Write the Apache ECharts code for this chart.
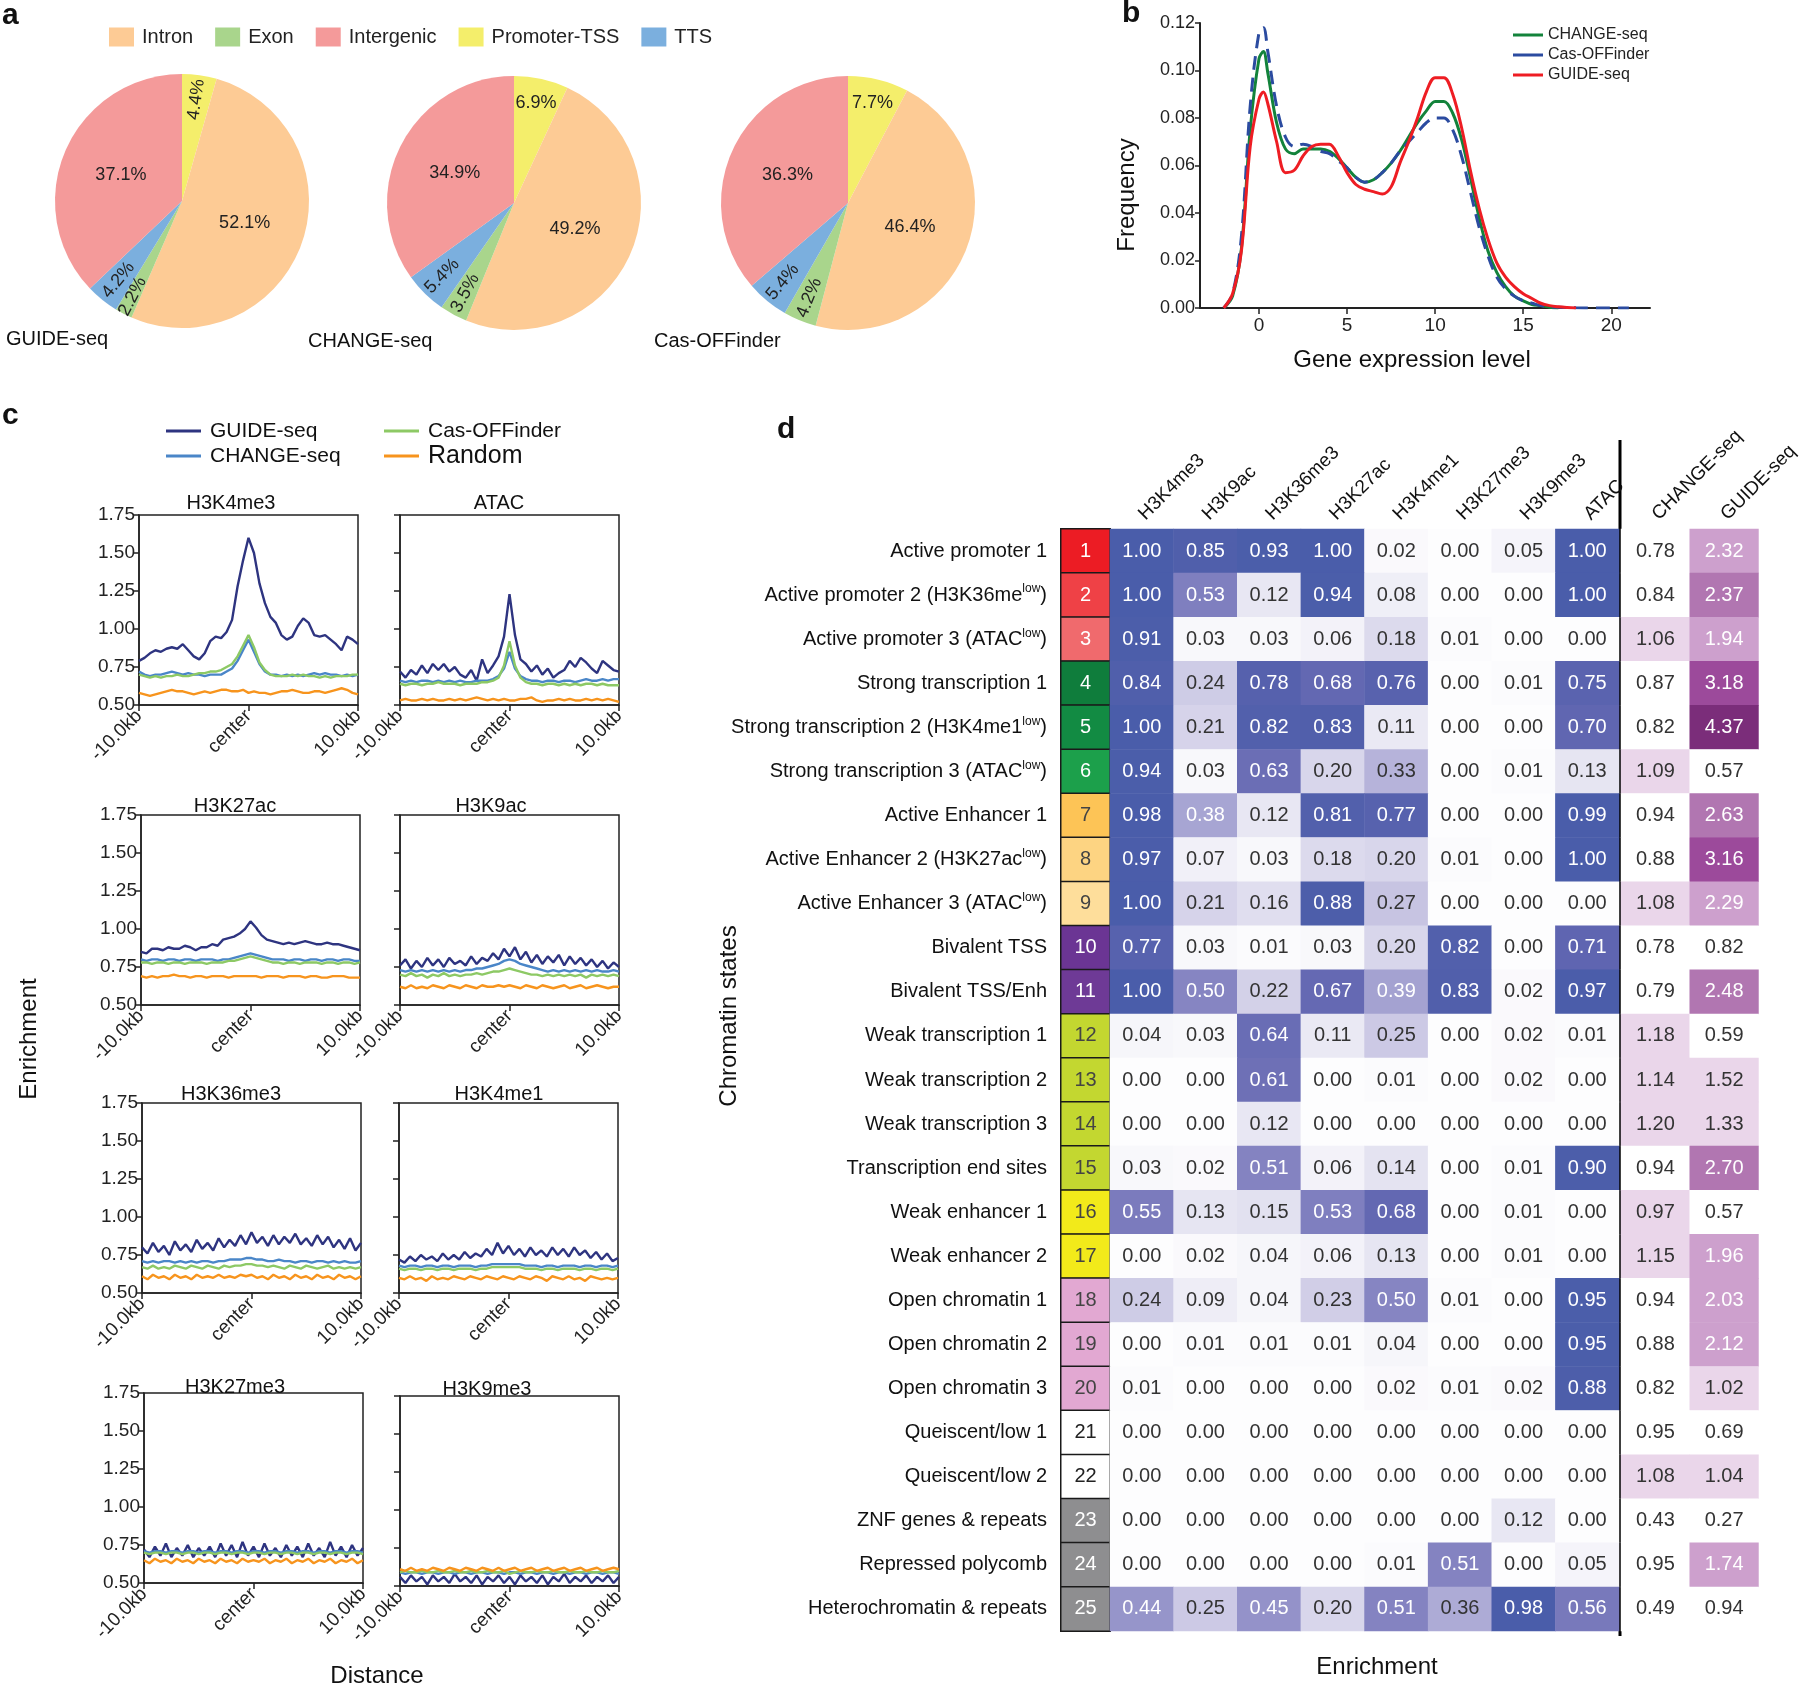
<!DOCTYPE html>
<html>
<head>
<meta charset="utf-8">
<script src="https://cdn.jsdelivr.net/npm/echarts@6/dist/echarts.min.js"></script>
<style>
html, body { margin: 0; padding: 0; background: #fff; }
#main { width: 1800px; height: 1687px; }
</style>
</head>
<body>
<div id="main"></div>
<script>
// ---------- a: genomic annotation of off-target sites (%)
var annoNames = ['Promoter-TSS', 'Intron', 'Exon', 'TTS', 'Intergenic'];
var annoColors = ['#F4EE6B', '#FDCB95', '#A9D58C', '#7BAFDE', '#F49A9A'];
var pieGuide = [4.4, 52.1, 2.2, 4.2, 37.1];
var pieChange = [6.9, 49.2, 3.5, 5.4, 34.9];
var pieCas = [7.7, 46.4, 4.2, 5.4, 36.3];

// ---------- b: density of gene expression level
var exprX = [-2,-1.5,-1,-0.5,0,0.25,0.5,1,1.5,2, 2.5,3,3.5,4,4.5,5,5.5,6,6.5,7, 7.5,8,8.5,9,9.5,10,10.5,11,11.5,12, 12.5,13,13.5,14,14.5,15,15.5,16,16.5,17, 17.5,18,19,20,21];
var densChange = [0,0.005,0.025,0.075,0.105,0.108,0.099,0.078,0.067,0.065, 0.067,0.067,0.067,0.066,0.063,0.059,0.055,0.053,0.054,0.057, 0.061,0.066,0.072,0.078,0.083,0.087,0.087,0.082,0.071,0.055, 0.038,0.024,0.015,0.009,0.005,0.003,0.0015,0.001,0.0003,0, null,null,null,null,null];
var densCas = [0,0.006,0.030,0.085,0.116,0.118,0.108,0.085,0.072,0.068, 0.069,0.068,0.066,0.065,0.062,0.059,0.055,0.053,0.054,0.057, 0.061,0.066,0.070,0.074,0.078,0.080,0.080,0.075,0.064,0.049, 0.034,0.022,0.013,0.008,0.005,0.003,0.002,0.001,0.0005,0.0003, 0.0002,0.0001,0,0,0];
var densGuide = [0,0.006,0.024,0.068,0.088,0.091,0.086,0.070,0.057,0.058, 0.064,0.068,0.069,0.069,0.064,0.057,0.052,0.050,0.049,0.048, 0.051,0.061,0.070,0.080,0.091,0.097,0.097,0.090,0.076,0.058, 0.042,0.029,0.019,0.013,0.009,0.006,0.004,0.002,0.001,0.0005, 0.0002,0,null,null,null];
var exprTicks = [0, 5, 10, 15, 20];

// ---------- c: enrichment profiles, -10kb .. +10kb, every 0.5kb
var h3k4me3Guide = [0.79,0.81,0.84,0.86,0.85,0.87,0.88,0.87,0.90,0.86, 0.82,0.80,0.84,0.92,0.95,0.94,0.98,1.06,1.28,1.45, 1.60,1.50,1.30,1.17,1.08,1.04,0.96,0.93,0.95,1.02, 1.07,1.04,0.96,0.95,0.96,0.93,0.90,0.86,0.95,0.93, 0.90];
var h3k4me3Change = [0.72,0.70,0.69,0.70,0.70,0.71,0.72,0.71,0.70,0.71, 0.70,0.70,0.69,0.70,0.70,0.70,0.72,0.74,0.79,0.86, 0.93,0.85,0.77,0.72,0.70,0.70,0.69,0.70,0.69,0.70, 0.69,0.70,0.71,0.70,0.71,0.70,0.70,0.69,0.70,0.69, 0.70];
var h3k4me3Cas = [0.70,0.69,0.68,0.69,0.68,0.69,0.69,0.70,0.69,0.69, 0.70,0.71,0.71,0.72,0.72,0.73,0.75,0.77,0.82,0.89, 0.96,0.88,0.78,0.73,0.70,0.69,0.69,0.69,0.70,0.69, 0.70,0.69,0.69,0.68,0.69,0.68,0.69,0.69,0.69,0.70, 0.70];
var h3k4me3Random = [0.58,0.57,0.56,0.57,0.58,0.59,0.60,0.59,0.59,0.58, 0.57,0.58,0.59,0.58,0.59,0.60,0.60,0.59,0.59,0.60, 0.58,0.59,0.58,0.58,0.57,0.58,0.59,0.59,0.60,0.59, 0.58,0.58,0.59,0.59,0.58,0.59,0.60,0.61,0.60,0.58, 0.57];

var atacGuide = [0.72,0.68,0.73,0.70,0.76,0.71,0.77,0.73,0.77,0.72, 0.75,0.70,0.68,0.73,0.66,0.80,0.71,0.76,0.82,0.95, 1.23,0.96,0.80,0.77,0.72,0.76,0.70,0.74,0.68,0.71, 0.73,0.79,0.75,0.81,0.78,0.74,0.71,0.79,0.76,0.73, 0.72];
var atacChange = [0.66,0.65,0.66,0.65,0.66,0.66,0.65,0.66,0.65,0.66, 0.65,0.66,0.65,0.65,0.66,0.66,0.66,0.67,0.69,0.74, 0.85,0.74,0.69,0.67,0.66,0.66,0.65,0.66,0.66,0.65, 0.66,0.66,0.65,0.66,0.67,0.66,0.66,0.67,0.66,0.67, 0.67];
var atacCas = [0.64,0.63,0.64,0.64,0.63,0.64,0.64,0.65,0.64,0.64, 0.64,0.63,0.64,0.64,0.64,0.65,0.65,0.66,0.68,0.76, 0.92,0.76,0.68,0.65,0.64,0.64,0.63,0.64,0.64,0.63, 0.64,0.63,0.64,0.63,0.64,0.64,0.63,0.64,0.63,0.63, 0.63];
var atacRandom = [0.53,0.54,0.53,0.53,0.54,0.53,0.54,0.53,0.53,0.54, 0.53,0.54,0.53,0.54,0.55,0.54,0.53,0.54,0.53,0.54, 0.53,0.53,0.54,0.54,0.55,0.53,0.52,0.53,0.53,0.54, 0.53,0.54,0.53,0.53,0.54,0.53,0.54,0.53,0.54,0.53, 0.52];

var h3k27acGuide = [0.85,0.84,0.87,0.87,0.86,0.88,0.87,0.87,0.89,0.88, 0.86,0.88,0.88,0.90,0.89,0.93,0.94,0.95,0.97,1.00, 1.05,1.01,0.96,0.93,0.92,0.91,0.90,0.91,0.90,0.91, 0.92,0.91,0.90,0.90,0.91,0.90,0.90,0.89,0.88,0.87, 0.86];
var h3k27acChange = [0.80,0.79,0.80,0.80,0.79,0.80,0.80,0.79,0.80,0.80, 0.79,0.80,0.80,0.80,0.79,0.80,0.80,0.81,0.82,0.83, 0.84,0.83,0.82,0.81,0.80,0.80,0.80,0.79,0.80,0.80, 0.79,0.80,0.80,0.79,0.80,0.80,0.79,0.80,0.80,0.79, 0.79];
var h3k27acCas = [0.78,0.78,0.77,0.78,0.78,0.77,0.78,0.78,0.77,0.78, 0.78,0.78,0.77,0.78,0.78,0.78,0.79,0.79,0.80,0.81, 0.82,0.81,0.80,0.79,0.78,0.78,0.77,0.78,0.78,0.77, 0.78,0.78,0.78,0.77,0.78,0.78,0.77,0.78,0.78,0.77, 0.78];
var h3k27acRandom = [0.69,0.68,0.69,0.68,0.69,0.69,0.70,0.69,0.69,0.68, 0.69,0.69,0.68,0.69,0.69,0.69,0.68,0.69,0.69,0.69, 0.69,0.69,0.68,0.69,0.69,0.69,0.68,0.69,0.69,0.69, 0.68,0.69,0.69,0.68,0.68,0.69,0.69,0.69,0.68,0.68, 0.68];

var h3k9acGuide = [0.76,0.80,0.74,0.79,0.75,0.81,0.76,0.80,0.75,0.81, 0.77,0.79,0.76,0.82,0.77,0.81,0.79,0.84,0.80,0.87, 0.82,0.88,0.80,0.85,0.78,0.83,0.77,0.82,0.78,0.83, 0.76,0.82,0.77,0.81,0.76,0.80,0.75,0.79,0.74,0.78, 0.75];
var h3k9acChange = [0.73,0.72,0.73,0.72,0.73,0.72,0.73,0.72,0.73,0.72, 0.73,0.72,0.73,0.73,0.74,0.74,0.75,0.76,0.77,0.79, 0.80,0.79,0.77,0.76,0.75,0.74,0.73,0.72,0.73,0.72, 0.73,0.72,0.73,0.72,0.73,0.72,0.73,0.72,0.72,0.73, 0.72];
var h3k9acCas = [0.70,0.69,0.71,0.69,0.70,0.68,0.70,0.69,0.71,0.69, 0.70,0.69,0.70,0.70,0.71,0.70,0.71,0.72,0.72,0.73, 0.74,0.73,0.72,0.71,0.70,0.70,0.69,0.70,0.69,0.70, 0.69,0.70,0.69,0.70,0.68,0.70,0.69,0.70,0.69,0.70, 0.69];
var h3k9acRandom = [0.62,0.61,0.63,0.61,0.62,0.61,0.63,0.62,0.61,0.63, 0.62,0.61,0.63,0.62,0.61,0.63,0.62,0.62,0.63,0.62, 0.63,0.62,0.61,0.63,0.62,0.61,0.63,0.62,0.61,0.62, 0.63,0.61,0.62,0.63,0.61,0.62,0.63,0.62,0.61,0.62, 0.62];

var h3k36me3Guide = [0.80,0.76,0.83,0.77,0.81,0.75,0.84,0.78,0.82,0.77, 0.85,0.79,0.83,0.78,0.86,0.80,0.85,0.81,0.88,0.82, 0.90,0.83,0.87,0.81,0.88,0.82,0.87,0.83,0.89,0.82, 0.86,0.81,0.88,0.82,0.87,0.80,0.85,0.79,0.86,0.78, 0.83];
var h3k36me3Change = [0.71,0.70,0.71,0.70,0.71,0.71,0.70,0.71,0.70,0.71, 0.70,0.71,0.71,0.70,0.71,0.71,0.72,0.72,0.72,0.73, 0.73,0.72,0.72,0.71,0.71,0.72,0.71,0.71,0.70,0.71, 0.71,0.70,0.71,0.71,0.70,0.71,0.70,0.71,0.70,0.70, 0.71];
var h3k36me3Cas = [0.67,0.66,0.68,0.66,0.67,0.66,0.68,0.67,0.66,0.68, 0.67,0.66,0.68,0.67,0.66,0.68,0.67,0.68,0.68,0.69, 0.69,0.68,0.68,0.67,0.68,0.67,0.66,0.68,0.67,0.66, 0.68,0.67,0.66,0.67,0.68,0.66,0.67,0.66,0.67,0.66, 0.67];
var h3k36me3Random = [0.61,0.59,0.62,0.60,0.61,0.59,0.62,0.60,0.61,0.59, 0.62,0.60,0.61,0.60,0.62,0.60,0.61,0.60,0.62,0.61, 0.62,0.60,0.61,0.59,0.62,0.60,0.61,0.59,0.62,0.60, 0.61,0.59,0.62,0.60,0.61,0.59,0.62,0.60,0.61,0.59, 0.61];

var h3k4me1Guide = [0.72,0.70,0.74,0.71,0.75,0.72,0.74,0.71,0.76,0.72, 0.75,0.72,0.77,0.73,0.76,0.74,0.79,0.75,0.83,0.76, 0.81,0.75,0.79,0.74,0.80,0.75,0.78,0.74,0.80,0.75, 0.79,0.74,0.80,0.75,0.78,0.73,0.77,0.72,0.76,0.71, 0.73];
var h3k4me1Change = [0.68,0.67,0.68,0.68,0.67,0.68,0.68,0.67,0.68,0.68, 0.67,0.68,0.68,0.68,0.67,0.68,0.68,0.69,0.69,0.69, 0.69,0.69,0.69,0.68,0.68,0.68,0.67,0.68,0.68,0.67, 0.68,0.68,0.68,0.67,0.68,0.68,0.67,0.68,0.68,0.67, 0.68];
var h3k4me1Cas = [0.66,0.65,0.66,0.66,0.65,0.66,0.66,0.65,0.66,0.66, 0.65,0.66,0.66,0.66,0.65,0.66,0.66,0.67,0.67,0.67, 0.67,0.67,0.67,0.66,0.66,0.66,0.65,0.66,0.66,0.65, 0.66,0.66,0.66,0.65,0.66,0.66,0.65,0.66,0.66,0.65, 0.66];
var h3k4me1Random = [0.60,0.59,0.61,0.59,0.60,0.58,0.61,0.59,0.60,0.59, 0.61,0.60,0.59,0.61,0.60,0.59,0.61,0.60,0.59,0.61, 0.60,0.59,0.61,0.60,0.59,0.61,0.60,0.58,0.61,0.60, 0.59,0.61,0.59,0.60,0.58,0.61,0.60,0.59,0.60,0.59, 0.60];

var h3k27me3Guide = [0.72,0.67,0.74,0.68,0.76,0.67,0.73,0.68,0.75,0.67, 0.73,0.68,0.74,0.67,0.76,0.68,0.75,0.67,0.77,0.68, 0.74,0.67,0.76,0.68,0.73,0.67,0.75,0.68,0.74,0.67, 0.76,0.68,0.73,0.67,0.77,0.68,0.74,0.67,0.75,0.68, 0.73];
var h3k27me3Change = [0.71,0.70,0.71,0.71,0.70,0.71,0.71,0.70,0.71,0.71, 0.70,0.71,0.71,0.70,0.71,0.71,0.70,0.71,0.71,0.70, 0.71,0.71,0.70,0.71,0.71,0.70,0.71,0.71,0.70,0.71, 0.71,0.70,0.71,0.71,0.70,0.71,0.71,0.70,0.71,0.71, 0.70];
var h3k27me3Cas = [0.70,0.69,0.70,0.70,0.69,0.70,0.70,0.69,0.70,0.70, 0.69,0.70,0.70,0.69,0.70,0.70,0.69,0.70,0.70,0.69, 0.70,0.70,0.69,0.70,0.70,0.69,0.70,0.70,0.69,0.70, 0.70,0.69,0.70,0.70,0.69,0.70,0.70,0.69,0.70,0.70, 0.69];
var h3k27me3Random = [0.65,0.63,0.66,0.64,0.65,0.63,0.66,0.64,0.65,0.63, 0.66,0.64,0.65,0.63,0.66,0.64,0.65,0.63,0.66,0.64, 0.65,0.64,0.66,0.63,0.65,0.64,0.66,0.63,0.65,0.64, 0.66,0.63,0.65,0.64,0.66,0.63,0.65,0.64,0.66,0.63, 0.65];

var h3k9me3Guide = [0.56,0.52,0.57,0.53,0.56,0.51,0.57,0.53,0.56,0.52, 0.58,0.53,0.56,0.52,0.57,0.51,0.56,0.53,0.57,0.52, 0.56,0.51,0.57,0.53,0.56,0.52,0.57,0.51,0.56,0.53, 0.58,0.52,0.56,0.53,0.57,0.52,0.56,0.53,0.57,0.52, 0.56];
var h3k9me3Change = [0.59,0.58,0.59,0.59,0.58,0.59,0.59,0.58,0.59,0.59, 0.58,0.59,0.59,0.58,0.59,0.59,0.58,0.59,0.59,0.58, 0.59,0.59,0.58,0.59,0.59,0.58,0.59,0.59,0.58,0.59, 0.59,0.58,0.59,0.59,0.58,0.59,0.59,0.58,0.59,0.59, 0.58];
var h3k9me3Cas = [0.59,0.60,0.59,0.59,0.60,0.59,0.59,0.60,0.59,0.59, 0.60,0.59,0.59,0.60,0.59,0.59,0.60,0.59,0.59,0.60, 0.58,0.59,0.60,0.59,0.59,0.60,0.59,0.59,0.60,0.59, 0.59,0.60,0.59,0.59,0.60,0.59,0.59,0.60,0.59,0.59, 0.60];
var h3k9me3Random = [0.61,0.60,0.62,0.60,0.61,0.60,0.62,0.61,0.60,0.62, 0.61,0.60,0.62,0.61,0.60,0.62,0.61,0.60,0.62,0.60, 0.61,0.62,0.60,0.61,0.62,0.60,0.61,0.62,0.60,0.61, 0.62,0.60,0.61,0.62,0.60,0.61,0.62,0.60,0.61,0.62, 0.61];

var profileNames = ['GUIDE-seq', 'CHANGE-seq', 'Cas-OFFinder', 'Random'];
var profileColors = ['#2E3480', '#4A86C8', '#8DC965', '#F7941D'];

// ---------- d: chromatin states
var stateLabels = ['Active promoter 1', 'Active promoter 2 (H3K36me^low)', 'Active promoter 3 (ATAC^low)',
  'Strong transcription 1', 'Strong transcription 2 (H3K4me1^low)', 'Strong transcription 3 (ATAC^low)',
  'Active Enhancer 1', 'Active Enhancer 2 (H3K27ac^low)', 'Active Enhancer 3 (ATAC^low)',
  'Bivalent TSS', 'Bivalent TSS/Enh', 'Weak transcription 1', 'Weak transcription 2', 'Weak transcription 3',
  'Transcription end sites', 'Weak enhancer 1', 'Weak enhancer 2', 'Open chromatin 1', 'Open chromatin 2',
  'Open chromatin 3', 'Queiscent/low 1', 'Queiscent/low 2', 'ZNF genes & repeats', 'Repressed polycomb',
  'Heterochromatin & repeats'];
var stateColors = ['#EC1C24','#EF4146','#F06A6D','#0F7D3C','#128B43','#1CA04B','#FDC456','#FDD482','#FEDE9B',
  '#6B3594','#6E3A96','#C3D730','#C3D730','#C3D730','#C3D730','#F2EA1A','#F2EA1A','#E2A8D2','#E2A8D2','#E2A8D2',
  '#FFFFFF','#FFFFFF','#8E8E90','#8E8E90','#8E8E90'];
var stateNumColors = ['#fff','#fff','#fff','#fff','#fff','#fff','#444','#444','#444','#fff','#fff','#444','#444','#444',
  '#444','#444','#444','#444','#444','#444','#222','#222','#fff','#fff','#fff'];
var markNames = ['H3K4me3', 'H3K9ac', 'H3K36me3', 'H3K27ac', 'H3K4me1', 'H3K27me3', 'H3K9me3', 'ATAC'];
var markEnrichment = [
  [1.00,0.85,0.93,1.00,0.02,0.00,0.05,1.00],
  [1.00,0.53,0.12,0.94,0.08,0.00,0.00,1.00],
  [0.91,0.03,0.03,0.06,0.18,0.01,0.00,0.00],
  [0.84,0.24,0.78,0.68,0.76,0.00,0.01,0.75],
  [1.00,0.21,0.82,0.83,0.11,0.00,0.00,0.70],
  [0.94,0.03,0.63,0.20,0.33,0.00,0.01,0.13],
  [0.98,0.38,0.12,0.81,0.77,0.00,0.00,0.99],
  [0.97,0.07,0.03,0.18,0.20,0.01,0.00,1.00],
  [1.00,0.21,0.16,0.88,0.27,0.00,0.00,0.00],
  [0.77,0.03,0.01,0.03,0.20,0.82,0.00,0.71],
  [1.00,0.50,0.22,0.67,0.39,0.83,0.02,0.97],
  [0.04,0.03,0.64,0.11,0.25,0.00,0.02,0.01],
  [0.00,0.00,0.61,0.00,0.01,0.00,0.02,0.00],
  [0.00,0.00,0.12,0.00,0.00,0.00,0.00,0.00],
  [0.03,0.02,0.51,0.06,0.14,0.00,0.01,0.90],
  [0.55,0.13,0.15,0.53,0.68,0.00,0.01,0.00],
  [0.00,0.02,0.04,0.06,0.13,0.00,0.01,0.00],
  [0.24,0.09,0.04,0.23,0.50,0.01,0.00,0.95],
  [0.00,0.01,0.01,0.01,0.04,0.00,0.00,0.95],
  [0.01,0.00,0.00,0.00,0.02,0.01,0.02,0.88],
  [0.00,0.00,0.00,0.00,0.00,0.00,0.00,0.00],
  [0.00,0.00,0.00,0.00,0.00,0.00,0.00,0.00],
  [0.00,0.00,0.00,0.00,0.00,0.00,0.12,0.00],
  [0.00,0.00,0.00,0.00,0.01,0.51,0.00,0.05],
  [0.44,0.25,0.45,0.20,0.51,0.36,0.98,0.56]
];
var offTargetNames = ['CHANGE-seq', 'GUIDE-seq'];
var changeSeqEnrich = [0.78,0.84,1.06,0.87,0.82,1.09,0.94,0.88,1.08,0.78,0.79,1.18,1.14,1.20,0.94,0.97,1.15,0.94,0.88,0.82,0.95,1.08,0.43,0.95,0.49];
var guideSeqEnrich = [2.32,2.37,1.94,3.18,4.37,0.57,2.63,3.16,2.29,0.82,2.48,0.59,1.52,1.33,2.70,0.57,1.96,2.03,2.12,1.02,0.69,1.04,0.27,1.74,0.94];

var FONT = 'Liberation Sans, Arial, Helvetica, sans-serif';
var chart = echarts.init(document.getElementById('main'));

var grids = [], xAxes = [], yAxes = [], series = [], graphics = [];

function txt(x, y, text, size, extra) {
  var o = { type: 'text', x: x, y: y, silent: true,
    style: { text: text, fontSize: size, fontFamily: FONT, fill: '#111', textAlign: 'left', textVerticalAlign: 'middle' } };
  if (extra) {
    for (var k in extra) {
      if (k === 'rotation') o.rotation = extra[k]; else o.style[k] = extra[k];
    }
  }
  graphics.push(o);
}

// ---------- panel a pies
function addPie(id, vals, cx, cy) {
  series.push({
    type: 'pie', name: id, center: [cx, cy], radius: [0, 127], startAngle: 90, clockwise: true, silent: true,
    label: { show: true, position: 'inside', color: '#222', fontSize: 18, fontFamily: FONT, formatter: '{c}%' },
    labelLine: { show: false },
    data: vals.map(function (v, i) {
      return { name: annoNames[i], value: v, itemStyle: { color: annoColors[i] }, label: { show: i === 1 || i === 4 } };
    })
  });
}
// transparent ring carrying the label of one small slice
function labelRing(id, vals, cx, cy, idx, rotate) {
  series.push({
    type: 'pie', name: id, center: [cx, cy], radius: [72, 127], startAngle: 90, clockwise: true, silent: true,
    avoidLabelOverlap: false, minShowLabelAngle: 0, labelLayout: { hideOverlap: false },
    itemStyle: { color: 'rgba(0,0,0,0)' },
    label: { show: true, position: 'inside', color: '#222', fontSize: 18, fontFamily: FONT, formatter: '{c}%', overflow: 'none' },
    labelLine: { show: false },
    data: vals.map(function (v, i) {
      return { name: annoNames[i], value: v, label: { show: i === idx, rotate: rotate } };
    })
  });
}
// slice too thin for an inside label: pull an outside label back into the pie
function labelPulled(id, vals, cx, cy, idx, pull) {
  series.push({
    type: 'pie', name: id, center: [cx, cy], radius: [0, 127], startAngle: 90, clockwise: true, silent: true,
    avoidLabelOverlap: false, minShowLabelAngle: 0, labelLayout: { hideOverlap: false },
    itemStyle: { color: 'rgba(0,0,0,0)' },
    label: { show: true, position: 'outside', color: '#222', fontSize: 18, fontFamily: FONT, formatter: '{c}%',
      overflow: 'none', alignTo: 'none', distanceToLabelLine: 0 },
    labelLine: { show: false, length: -pull, length2: 0 },
    data: vals.map(function (v, i) {
      return { name: annoNames[i], value: v, label: { show: i === idx, rotate: 'radial' } };
    })
  });
}
addPie('pie GUIDE', pieGuide, 182, 201);
addPie('pie CHANGE', pieChange, 514, 203);
addPie('pie Cas', pieCas, 848, 203);
labelRing('lbl GUIDE a', pieGuide, 182, 201, 0, 'radial');
labelPulled('lbl GUIDE b', pieGuide, 182, 201, 2, 40);
labelPulled('lbl GUIDE c', pieGuide, 182, 201, 3, 46);
labelRing('lbl CHANGE a', pieChange, 514, 203, 0, 0);
labelRing('lbl CHANGE b', pieChange, 514, 203, 2, 'radial');
labelRing('lbl CHANGE c', pieChange, 514, 203, 3, 'radial');
labelRing('lbl Cas a', pieCas, 848, 203, 0, 0);
labelRing('lbl Cas b', pieCas, 848, 203, 2, 'radial');
labelRing('lbl Cas c', pieCas, 848, 203, 3, 'radial');

txt(6, 339, 'GUIDE-seq', 20);
txt(308, 341, 'CHANGE-seq', 20);
txt(654, 341, 'Cas-OFFinder', 20);

// ---------- panel b density
grids.push({ left: 1200, top: 23, width: 450, height: 285 });
xAxes.push({ type: 'value', gridIndex: 0, min: -3.35, max: 22.2,
  axisLine: { onZero: false, lineStyle: { color: '#222', width: 2 } },
  axisTick: { show: true, length: 6, customValues: exprTicks, lineStyle: { color: '#222', width: 1.5 } },
  axisLabel: { customValues: exprTicks, fontSize: 19, color: '#222', fontFamily: FONT, margin: 8 },
  splitLine: { show: false } });
yAxes.push({ type: 'value', gridIndex: 0, min: 0, max: 0.12, interval: 0.02,
  axisLine: { show: true, onZero: false, lineStyle: { color: '#222', width: 2 } },
  axisTick: { show: true, length: 5, lineStyle: { color: '#222', width: 1.5 } },
  axisLabel: { fontSize: 18, color: '#222', fontFamily: FONT, margin: 5, formatter: function (v) { return v.toFixed(2); } },
  splitLine: { show: false } });

function densSeries(name, ys, color, dashed) {
  series.push({ type: 'line', name: name, xAxisIndex: 0, yAxisIndex: 0, smooth: 0.35, symbol: 'none', silent: true,
    connectNulls: false,
    itemStyle: { color: color },
    lineStyle: { color: color, width: 3, type: dashed ? [14, 8] : 'solid' },
    data: exprX.map(function (x, i) { return [x, ys[i]]; }) });
}
densSeries('CHANGE-seq', densChange, '#13833B', false);
densSeries('Cas-OFFinder', densCas, '#2B4BA0', true);
densSeries('GUIDE-seq', densGuide, '#EE1D23', false);

txt(1127, 195, 'Frequency', 24, { textAlign: 'center', rotation: Math.PI / 2 });
txt(1412, 360, 'Gene expression level', 24, { textAlign: 'center' });

// ---------- panel c profiles
var cPanels = [
  { title: 'H3K4me3', left: 139, top: 515, tx: 231, ty: 503, ylab: true, lines: [h3k4me3Guide, h3k4me3Change, h3k4me3Cas, h3k4me3Random] },
  { title: 'ATAC', left: 400, top: 515, tx: 499, ty: 503, ylab: false, lines: [atacGuide, atacChange, atacCas, atacRandom] },
  { title: 'H3K27ac', left: 141, top: 815, tx: 235, ty: 806, ylab: true, lines: [h3k27acGuide, h3k27acChange, h3k27acCas, h3k27acRandom] },
  { title: 'H3K9ac', left: 400, top: 815, tx: 491, ty: 806, ylab: false, lines: [h3k9acGuide, h3k9acChange, h3k9acCas, h3k9acRandom] },
  { title: 'H3K36me3', left: 142, top: 1103, tx: 231, ty: 1094, ylab: true, lines: [h3k36me3Guide, h3k36me3Change, h3k36me3Cas, h3k36me3Random] },
  { title: 'H3K4me1', left: 399, top: 1103, tx: 499, ty: 1094, ylab: false, lines: [h3k4me1Guide, h3k4me1Change, h3k4me1Cas, h3k4me1Random] },
  { title: 'H3K27me3', left: 144, top: 1393, tx: 235, ty: 1387, ylab: true, lines: [h3k27me3Guide, h3k27me3Change, h3k27me3Cas, h3k27me3Random] },
  { title: 'H3K9me3', left: 400, top: 1396, tx: 487, ty: 1389, ylab: false, lines: [h3k9me3Guide, h3k9me3Change, h3k9me3Cas, h3k9me3Random] }
];
cPanels.forEach(function (p) {
  var gi = grids.length;
  grids.push({ left: p.left, top: p.top, width: 219, height: 190, show: true, borderColor: '#222', borderWidth: 1.5 });
  xAxes.push({ type: 'value', gridIndex: gi, min: -10, max: 10, interval: 10,
    axisLine: { onZero: false, lineStyle: { color: '#222', width: 1.5 } },
    axisTick: { show: true, length: 6, lineStyle: { color: '#222', width: 1.5 } },
    axisLabel: { rotate: 45, fontSize: 19, color: '#222', fontFamily: FONT, margin: 8,
      formatter: function (v) { return v === 0 ? 'center' : v.toFixed(1) + 'kb'; } },
    splitLine: { show: false } });
  yAxes.push({ type: 'value', gridIndex: gi, min: 0.5, max: 1.75, interval: 0.25,
    axisLine: { show: true, onZero: false, lineStyle: { color: '#222', width: 1.5 } },
    axisTick: { show: true, length: 6, lineStyle: { color: '#222', width: 1.5 } },
    axisLabel: { show: p.ylab, fontSize: 19, color: '#222', fontFamily: FONT, margin: 4,
      formatter: function (v) { return v.toFixed(2); } },
    splitLine: { show: false } });
  p.lines.forEach(function (ys, k) {
    series.push({ type: 'line', name: p.title + ' ' + profileNames[k], xAxisIndex: gi, yAxisIndex: gi,
      symbol: 'none', silent: true,
      itemStyle: { color: profileColors[k] },
      lineStyle: { color: profileColors[k], width: 2.4 },
      data: ys.map(function (y, i) { return [-10 + i * 0.5, y]; }) });
  });
  txt(p.tx, p.ty, p.title, 20, { textAlign: 'center' });
});

// legend of panel c
[[166, 431, 0], [166, 456, 1], [384, 431, 2], [384, 456, 3]].forEach(function (it) {
  graphics.push({ type: 'line', silent: true, shape: { x1: it[0], y1: it[1], x2: it[0] + 35, y2: it[1] },
    style: { stroke: profileColors[it[2]], lineWidth: 3 } });
  txt(it[0] + 44, it[1], profileNames[it[2]], it[2] === 3 ? 25 : 21);
});
txt(29, 1039, 'Enrichment', 24, { textAlign: 'center', rotation: Math.PI / 2 });
txt(377, 1676, 'Distance', 24, { textAlign: 'center' });

// ---------- panel d heatmaps
var hTop = 529, hHeight = 1102;
var giIdx = grids.length;
grids.push({ left: 1061, top: hTop, width: 49, height: hHeight });
xAxes.push({ type: 'category', gridIndex: giIdx, data: ['state'], show: false });
yAxes.push({ type: 'category', gridIndex: giIdx, data: stateLabels, inverse: true,
  axisLine: { show: false }, axisTick: { show: false },
  axisLabel: { fontSize: 20, color: '#111', fontFamily: FONT, margin: 14, lineHeight: 24,
    formatter: function (v) { return v.replace(/\^(\w+)/, '{sup|$1}'); },
    rich: { sup: { fontSize: 12, lineHeight: 12, verticalAlign: 'top', color: '#111', fontFamily: FONT } } } });

var giMark = grids.length;
grids.push({ left: 1110, top: hTop, width: 509, height: hHeight });
xAxes.push({ type: 'category', gridIndex: giMark, data: markNames, position: 'top',
  axisLine: { show: false }, axisTick: { show: false },
  axisLabel: { rotate: -45, interval: 0, fontSize: 19, color: '#111', fontFamily: FONT, margin: 12 } });
yAxes.push({ type: 'category', gridIndex: giMark, data: stateLabels, inverse: true, show: false });

var giOff = grids.length;
grids.push({ left: 1621, top: hTop, width: 144, height: hHeight });
xAxes.push({ type: 'category', gridIndex: giOff, data: offTargetNames, position: 'top',
  axisLine: { show: false }, axisTick: { show: false },
  axisLabel: { rotate: -45, interval: 0, fontSize: 19, color: '#111', fontFamily: FONT, margin: 12 } });
yAxes.push({ type: 'category', gridIndex: giOff, data: stateLabels, inverse: true, show: false });

var idxSeriesIndex = series.length;
series.push({ type: 'heatmap', name: 'state', xAxisIndex: giIdx, yAxisIndex: giIdx, silent: true,
  itemStyle: { borderColor: '#1a1a1a', borderWidth: 1.5 },
  label: { show: true, fontSize: 20, fontFamily: FONT, formatter: function (p) { return String(p.value[2]); } },
  data: stateLabels.map(function (s, r) {
    return { value: [0, r, r + 1], label: { color: stateNumColors[r] } };
  }) });

var markSeriesIndex = series.length;
var markData = [];
markEnrichment.forEach(function (row, r) {
  row.forEach(function (v, c) {
    markData.push({ value: [c, r, v], label: { color: v >= 0.37 ? '#fff' : '#333' } });
  });
});
series.push({ type: 'heatmap', name: 'marks', xAxisIndex: giMark, yAxisIndex: giMark, silent: true,
  label: { show: true, fontSize: 20, fontFamily: FONT, formatter: function (p) { return p.value[2].toFixed(2); } },
  data: markData });

var offSeriesIndex = series.length;
var offData = [];
changeSeqEnrich.forEach(function (v, r) {
  offData.push({ value: [0, r, v], label: { color: v >= 1.6 ? '#fff' : '#333' } });
  offData.push({ value: [1, r, guideSeqEnrich[r]], label: { color: guideSeqEnrich[r] >= 1.6 ? '#fff' : '#333' } });
});
series.push({ type: 'heatmap', name: 'offtarget', xAxisIndex: giOff, yAxisIndex: giOff, silent: true,
  label: { show: true, fontSize: 20, fontFamily: FONT, formatter: function (p) { return p.value[2].toFixed(2); } },
  data: offData });

graphics.push({ type: 'line', silent: true, shape: { x1: 1620, y1: 440, x2: 1620, y2: 1636 },
  style: { stroke: '#000', lineWidth: 3 } });
txt(729, 1016, 'Chromatin states', 24, { textAlign: 'center', rotation: Math.PI / 2 });
txt(1377, 1667, 'Enrichment', 24, { textAlign: 'center' });

// panel letters
txt(2, 16, 'a', 30, { fontWeight: 'bold' });
txt(1122, 14, 'b', 30, { fontWeight: 'bold' });
txt(2, 416, 'c', 30, { fontWeight: 'bold' });
txt(777, 430, 'd', 30, { fontWeight: 'bold' });

var option = {
  animation: false,
  backgroundColor: '#fff',
  textStyle: { fontFamily: FONT },
  legend: [
    { data: ['Intron', 'Exon', 'Intergenic', 'Promoter-TSS', 'TTS'], left: 109, top: 27, padding: 0,
      icon: 'rect', itemWidth: 25, itemHeight: 19, itemGap: 22, selectedMode: false,
      textStyle: { fontSize: 20, color: '#222', fontFamily: FONT, padding: [0, 0, 0, 3] } },
    { data: [{ name: 'CHANGE-seq', icon: 'rect' }, { name: 'Cas-OFFinder', icon: 'rect' }, { name: 'GUIDE-seq', icon: 'rect' }],
      orient: 'vertical', left: 1513, top: 27, padding: 0, itemWidth: 30, itemHeight: 3, itemGap: 4,
      selectedMode: false, textStyle: { fontSize: 16, color: '#222', fontFamily: FONT } }
  ],
  grid: grids,
  xAxis: xAxes,
  yAxis: yAxes,
  visualMap: [
    { type: 'piecewise', show: false, seriesIndex: idxSeriesIndex, dimension: 2,
      pieces: stateColors.map(function (c, i) { return { value: i + 1, color: c }; }) },
    { type: 'continuous', show: false, seriesIndex: markSeriesIndex, dimension: 2, min: 0, max: 1,
      inRange: { color: ['#FDFDFE', '#ECEBF5', '#D8D6EB', '#BFBCDE', '#A19FD0', '#8685C2', '#6F71B7', '#6066B1', '#5360AC', '#4C5EAA', '#4A5DAA'] } },
    { type: 'piecewise', show: false, seriesIndex: offSeriesIndex, dimension: 2,
      pieces: [
        { lt: 0.96, color: '#FFFFFF' },
        { gte: 0.96, lt: 1.6, color: '#EAD6EA' },
        { gte: 1.6, lt: 2.35, color: '#CDA0CD' },
        { gte: 2.35, lt: 3.0, color: '#B176B1' },
        { gte: 3.0, lt: 4.0, color: '#9C4A9B' },
        { gte: 4.0, color: '#7B2D7A' }
      ] }
  ],
  series: series,
  graphic: graphics
};
chart.setOption(option);
</script>
</body>
</html>
